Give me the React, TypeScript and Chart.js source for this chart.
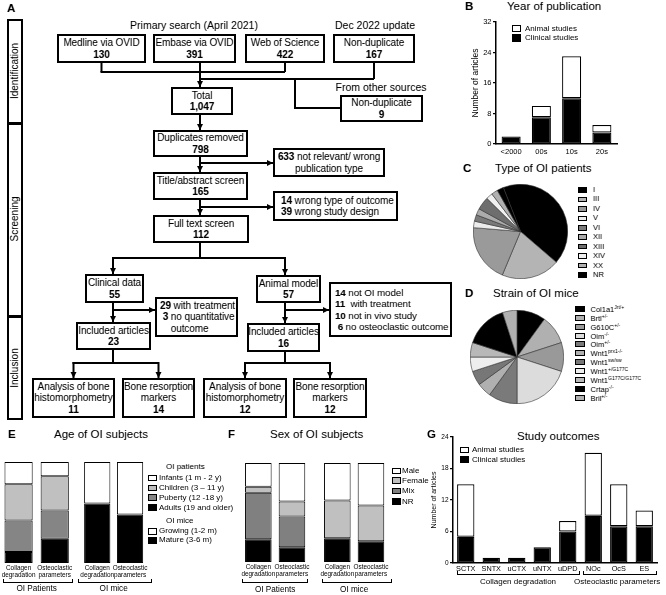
import React, { useEffect, useRef } from 'react';
import { Chart, registerables } from 'chart.js';

Chart.register(...registerables);

const FONT = '"Liberation Sans", Arial, Helvetica, sans-serif';
Chart.defaults.font.family = FONT;
Chart.defaults.color = '#000';

// ---------------- data ----------------
const yearCats = ['<2000', '00s', '10s', '20s'];
const yearClinical = [2, 7, 12, 3];
const yearAnimal = [0, 3, 11, 2];
const yearTicks = [0, 8, 16, 24, 32];

const oiTypeLabels = ['I', 'III', 'IV', 'V', 'VI', 'XII', 'XIII', 'XIV', 'XX', 'NR'];
const oiTypeCounts = [19, 9, 9, 1, 1, 1, 2, 1, 1, 1];

const strainNames = ['Col1a1', 'Brtl', 'G610C', 'Oim', 'Oim', 'Wnt1', 'Wnt1', 'Wnt1', 'Wnt1', 'Crtap', 'Bril'];
const strainAlleles = ['Jrt/+', '+/-', '+/-', '-/-', '+/-', 'prx1-/-', 'sw/sw', '+/G177C', 'G177C/G177C', '-/-', '+/-'];
const strainCounts = [2, 2, 2, 4, 2, 1, 1, 1, 1, 3, 1];

const subjectCats = [['Collagen', 'degradation'], ['Osteoclastic', 'parameters']];
const ageInfants = [22, 14];
const ageChildren = [36, 34];
const agePuberty = [31, 28];
const ageAdults = [11, 24];
const ageGrowing = [41, 52];
const ageMature = [59, 48];

const sexPatMale = [24, 39];
const sexPatFemale = [6, 15];
const sexPatMix = [47, 31];
const sexPatNR = [23, 15];
const sexMiceMale = [38, 43];
const sexMiceFemale = [38, 36];
const sexMiceMix = [0, 0];
const sexMiceNR = [24, 21];

const outcomeCats = ['SCTX', 'SNTX', 'uCTX', 'uNTX', 'uDPD', 'NOc', 'OcS', 'ES'];
const outcomeClinical = [5, 1, 1, 3, 6, 9, 7, 7];
const outcomeAnimal = [10, 0, 0, 0, 2, 12, 8, 3];
const outcomeTicks = [0, 6, 12, 18, 24];

// ---------------- styles ----------------
const oiTypeColors = ['#000000', '#b4b4b4', '#9a9a9a', '#ececec', '#7a7a7a', '#ababab', '#6e6e6e', '#f0f0f0', '#b0b0b0', '#000000'];
const strainColors = ['#000000', '#b0b0b0', '#999999', '#dcdcdc', '#7a7a7a', '#b0b0b0', '#777777', '#eeeeee', '#b8b8b8', '#000000', '#b0b0b0'];

function ChartCanvas({ x, y, w, h, config }: any) {
  const ref = useRef<HTMLCanvasElement | null>(null);
  useEffect(() => {
    const c = new Chart(ref.current as HTMLCanvasElement, config);
    return () => c.destroy();
  }, []);
  return (
    <canvas
      ref={ref}
      width={w}
      height={h}
      style={{ position: 'absolute', left: x, top: y, width: w, height: h }}
    />
  );
}

const baseOpts = {
  responsive: false,
  animation: false,
  events: [],
  devicePixelRatio: 1,
};
const noPlugins = { legend: { display: false }, tooltip: { enabled: false } };

const seg = (label: string, data: number[], color: string, barPct: number, bw = 1) => ({
  label,
  data,
  backgroundColor: color,
  borderColor: '#000',
  borderWidth: bw,
  borderSkipped: false,
  barPercentage: barPct,
  categoryPercentage: 1,
});

function axisBarConfig(o: any) {
  return {
    type: 'bar',
    data: { labels: o.labels, datasets: o.datasets },
    options: {
      ...baseOpts,
      layout: { padding: o.pad },
      plugins: noPlugins,
      scales: {
        x: {
          stacked: true,
          grid: { display: false, drawTicks: false },
          border: { display: true, color: '#000', width: 1.5 },
          ticks: { padding: o.xPad, font: { size: o.xFont }, color: '#000', maxRotation: 0, autoSkip: false },
          afterFit: (s: any) => { s.height = o.xH; },
        },
        y: {
          stacked: true,
          min: 0,
          max: o.yMax,
          afterBuildTicks: (s: any) => { s.ticks = o.yTicks.map((v: number) => ({ value: v })); },
          ticks: { padding: 1.5, font: { size: o.yFont }, color: '#000' },
          grid: { drawOnChartArea: false, drawTicks: true, tickLength: 3, color: '#000', lineWidth: 1.3 },
          border: { display: true, color: '#000', width: 1.5 },
          title: { display: true, text: 'Number of articles', font: { size: o.titleFont }, color: '#000', padding: { top: o.titlePad, bottom: 0 } },
          afterFit: (s: any) => { s.width = o.yW; },
        },
      },
    },
  };
}

function pctBarConfig(o: any) {
  return {
    type: 'bar',
    data: { labels: subjectCats, datasets: o.datasets },
    options: {
      ...baseOpts,
      layout: { padding: { top: 3, left: 0, right: 0, bottom: 0 } },
      plugins: noPlugins,
      scales: {
        x: {
          stacked: true,
          grid: { display: false, drawTicks: false },
          border: { display: false },
          ticks: { padding: 2, font: { size: 6.4, lineHeight: 1.1 }, color: '#000', maxRotation: 0, autoSkip: false },
          title: { display: true, text: o.group, font: { size: 8.2 }, color: '#000', padding: { top: 0, bottom: o.tb } },
          afterFit: (s: any) => { s.height = o.xH; },
        },
        y: { display: false, stacked: true, min: 0, max: 100 },
      },
    },
  };
}

function pieConfig(labels: string[], data: number[], colors: string[], rotation: number) {
  return {
    type: 'pie',
    data: {
      labels,
      datasets: [{ data, backgroundColor: colors, borderColor: '#333', borderWidth: 0.6, hoverOffset: 0 }],
    },
    options: {
      ...baseOpts,
      rotation,
      layout: { padding: 0 },
      plugins: noPlugins,
    },
  };
}

// ---------------- chart configs ----------------
const cfgB = axisBarConfig({
  labels: yearCats,
  datasets: [
    seg('Clinical studies', yearClinical, '#000', 0.63, 1.2),
    seg('Animal studies', yearAnimal, '#fff', 0.63, 1.2),
  ],
  yMax: 32, yTicks: yearTicks,
  pad: { top: 8, right: 8, left: 0, bottom: 0 },
  xH: 16, yW: 33, xPad: 3, xFont: 7.5, yFont: 7.5, titleFont: 8.5, titlePad: 8,
});

const cfgG = axisBarConfig({
  labels: outcomeCats,
  datasets: [
    seg('Clinical studies', outcomeClinical, '#000', 0.68, 1.2),
    seg('Animal studies', outcomeAnimal, '#fff', 0.68, 1.2),
  ],
  yMax: 24, yTicks: outcomeTicks,
  pad: { top: 7, right: 5, left: 0, bottom: 0 },
  xH: 12, yW: 28, xPad: 2, xFont: 7.3, yFont: 6.5, titleFont: 7, titlePad: 4.8,
});

const cfgC = pieConfig(oiTypeLabels, oiTypeCounts, oiTypeColors, -21.3);
const cfgD = pieConfig(strainNames.map((n, i) => n + strainAlleles[i]), strainCounts, strainColors, 0);

const cfgEp = pctBarConfig({
  group: 'OI Patients', xH: 32, tb: 1.2,
  datasets: [
    seg('Adults (19 and older)', ageAdults, '#000', 0.78),
    seg('Puberty (12 -18 y)', agePuberty, '#858585', 0.78),
    seg('Children (3 – 11 y)', ageChildren, '#c0c0c0', 0.78),
    seg('Infants (1 m - 2 y)', ageInfants, '#fff', 0.78),
  ],
});
const cfgEm = pctBarConfig({
  group: 'OI mice', xH: 32, tb: 1.2,
  datasets: [
    seg('Mature (3-6 m)', ageMature, '#000', 0.8),
    seg('Growing (1-2 m)', ageGrowing, '#fff', 0.8),
  ],
});
const cfgFp = pctBarConfig({
  group: 'OI Patients', xH: 33, tb: 0.3,
  datasets: [
    seg('NR', sexPatNR, '#000', 0.79),
    seg('Mix', sexPatMix, '#808080', 0.79),
    seg('Female', sexPatFemale, '#c0c0c0', 0.79),
    seg('Male', sexPatMale, '#fff', 0.79),
  ],
});
const cfgFm = pctBarConfig({
  group: 'OI mice', xH: 33, tb: 0.3,
  datasets: [
    seg('NR', sexMiceNR, '#000', 0.79),
    seg('Mix', sexMiceMix, '#808080', 0.79),
    seg('Female', sexMiceFemale, '#c0c0c0', 0.79),
    seg('Male', sexMiceMale, '#fff', 0.79),
  ],
});

// ---------------- html helpers ----------------
const T = ({ x, y, s = 10, b = false, a = 'left', children, style }: any) => (
  <div
    style={{
      position: 'absolute', left: x, top: y, fontSize: s, fontWeight: b ? 'bold' : 'normal',
      transform: `translate(${a === 'center' ? '-50%' : a === 'right' ? '-100%' : '0'}, -50%)`,
      whiteSpace: 'nowrap', lineHeight: 1, ...style,
    }}
  >
    {children}
  </div>
);

const Sq = ({ x, y, w = 9, h = 7, c }: any) => (
  <div style={{ position: 'absolute', left: x, top: y - h / 2, width: w, height: h, boxSizing: 'border-box', border: '1px solid #000', background: c }} />
);

const Box = ({ x1, y1, x2, y2, left = false, pl = 0, fs = 10, children }: any) => (
  <div
    style={{
      position: 'absolute', left: x1, top: y1, width: x2 - x1, height: y2 - y1,
      border: '2.5px solid #000', boxSizing: 'border-box', display: 'flex', flexDirection: 'column',
      justifyContent: 'center', alignItems: left ? 'flex-start' : 'center', paddingLeft: pl,
      fontSize: fs, lineHeight: '11.3px', background: '#fff', whiteSpace: 'nowrap', letterSpacing: '-0.1px',
    }}
  >
    {children}
  </div>
);

const Bracket = ({ x1, x2, y }: any) => (
  <div style={{ position: 'absolute', left: x1, top: y - 3, width: x2 - x1, height: 3.5, boxSizing: 'border-box', borderLeft: '1.2px solid #000', borderRight: '1.2px solid #000', borderBottom: '1.2px solid #000' }} />
);

function Flow() {
  const lines: any[] = [];
  const arrows: any[] = [];
  const L = (x1: number, y1: number, x2: number, y2: number) => lines.push([x1, y1, x2, y2]);
  const A = (x1: number, y1: number, x2: number, y2: number) => { lines.push([x1, y1, x2, y2]); arrows.push([x1, y1, x2, y2]); };
  L(101.5, 63, 101.5, 72); L(101.5, 72, 285, 72); L(285, 63, 285, 72);
  L(374, 63, 374, 79); L(200, 79, 374, 79);
  A(200, 63, 200, 87);
  L(295, 79, 295, 108); L(295, 108, 340, 108);
  A(200, 115, 200, 130);
  A(200, 157, 200, 172); A(200, 163, 273, 163);
  A(200, 200, 200, 215); A(200, 207, 273, 207);
  L(200, 243, 200, 258); L(113, 258, 285, 258); A(113, 258, 113, 274); A(285, 258, 285, 275);
  A(113, 303, 113, 322); A(113, 310, 155, 310);
  A(285, 303, 285, 323); A(285, 310, 329, 310);
  L(113, 350, 113, 363); L(73.5, 363, 158.5, 363); A(73.5, 363, 73.5, 378); A(158.5, 363, 158.5, 378);
  L(285, 352, 285, 363); L(245, 363, 330, 363); A(245, 363, 245, 378); A(330, 363, 330, 378);

  const head = (a: number[], i: number) => {
    const [x1, y1, x2, y2] = a;
    let pts = '';
    if (x1 === x2) pts = `${x2 - 3},${y2 - 6} ${x2 + 3},${y2 - 6} ${x2},${y2}`;
    else pts = `${x2 - 6},${y2 - 3} ${x2 - 6},${y2 + 3} ${x2},${y2}`;
    return <polygon key={'h' + i} points={pts} fill="#000" />;
  };

  return (
    <>
      <svg width={666} height={595} style={{ position: 'absolute', left: 0, top: 0 }}>
        {lines.map((l, i) => {
          const [x1, y1, x2, y2] = l;
          const hz = y1 === y2;
          return <line key={i} x1={hz ? x1 - 1 : x1} y1={hz ? y1 : y1 - 1} x2={x2} y2={y2} stroke="#000" strokeWidth={2} />;
        })}
        {arrows.map(head)}
      </svg>

      {/* stage bar */}
      <div style={{ position: 'absolute', left: 7, top: 19, width: 16, height: 401, border: '2.5px solid #000', boxSizing: 'border-box' }} />
      <div style={{ position: 'absolute', left: 7, top: 122, width: 16, height: 2.5, background: '#000' }} />
      <div style={{ position: 'absolute', left: 7, top: 315, width: 16, height: 2.5, background: '#000' }} />
      <T x={15} y={71} s={10} a="center" style={{ transform: 'translate(-50%,-50%) rotate(-90deg)' }}>Identification</T>
      <T x={15} y={219} s={10} a="center" style={{ transform: 'translate(-50%,-50%) rotate(-90deg)' }}>Screening</T>
      <T x={15} y={368} s={10} a="center" style={{ transform: 'translate(-50%,-50%) rotate(-90deg)' }}>Inclusion</T>

      <T x={194} y={25} s={10.5} a="center">Primary search (April 2021)</T>
      <T x={375} y={25} s={10.5} a="center">Dec 2022 update</T>
      <T x={381} y={87} s={10.5} a="center">From other sources</T>

      <Box x1={57} y1={34} x2={146} y2={63}><div>Medline via OVID</div><b>130</b></Box>
      <Box x1={153} y1={34} x2={236} y2={63}><div>Embase via OVID</div><b>391</b></Box>
      <Box x1={245} y1={34} x2={325} y2={63}><div>Web of Science</div><b>422</b></Box>
      <Box x1={333} y1={34} x2={415} y2={63}><div>Non-duplicate</div><b>167</b></Box>
      <Box x1={340} y1={95} x2={423} y2={122}><div>Non-duplicate</div><b>9</b></Box>
      <Box x1={171} y1={87} x2={233} y2={115}><div>Total</div><b>1,047</b></Box>
      <Box x1={153} y1={130} x2={248} y2={157}><div>Duplicates removed</div><b>798</b></Box>
      <Box x1={273} y1={148} x2={385} y2={177}><div><b>633</b> not relevant/ wrong</div><div>publication type</div></Box>
      <Box x1={153} y1={172} x2={248} y2={200}><div>Title/abstract screen</div><b>165</b></Box>
      <Box x1={273} y1={191} x2={398} y2={221} left pl={6}><div><b>14</b> wrong type of outcome</div><div><b>39</b> wrong study design</div></Box>
      <Box x1={153} y1={215} x2={249} y2={243}><div>Full text screen</div><b>112</b></Box>
      <Box x1={85} y1={274} x2={144} y2={303}><div>Clinical data</div><b>55</b></Box>
      <Box x1={256} y1={275} x2={321} y2={303}><div>Animal model</div><b>57</b></Box>
      <Box x1={155} y1={297} x2={238} y2={337} left pl={3}><div><b>29</b> with treatment</div><div>&nbsp;<b>3</b> no quantitative</div><div>&nbsp;&nbsp;&nbsp;&nbsp;outcome</div></Box>
      <Box x1={329} y1={282} x2={452} y2={337} left pl={4} fs={9.8}><div><b>14</b> not OI model</div><div><b>11</b>&nbsp; with treatment</div><div><b>10</b> not in vivo study</div><div>&nbsp;<b>6</b> no osteoclastic outcome</div></Box>
      <Box x1={76} y1={322} x2={151} y2={350}><div>Included articles</div><b>23</b></Box>
      <Box x1={247} y1={323} x2={320} y2={352}><div>Included articles</div><b>16</b></Box>
      <Box x1={32} y1={378} x2={115} y2={418}><div>Analysis of bone</div><div>histomorphometry</div><b>11</b></Box>
      <Box x1={122} y1={378} x2={195} y2={418}><div>Bone resorption</div><div>markers</div><b>14</b></Box>
      <Box x1={203} y1={378} x2={287} y2={418}><div>Analysis of bone</div><div>histomorphometry</div><b>12</b></Box>
      <Box x1={293} y1={378} x2={367} y2={418}><div>Bone resorption</div><div>markers</div><b>12</b></Box>
    </>
  );
}

export default function App() {
  const cRows = [190, 199.4, 208.9, 218.3, 227.8, 237.2, 246.7, 256.1, 265.6, 275];
  const dRows = strainNames.map((_, i) => 309 + i * 8.87);
  return (
    <div style={{ position: 'absolute', left: 0, top: 0, width: 666, height: 595, overflow: 'hidden', background: '#fff', fontFamily: FONT, color: '#000', filter: 'grayscale(1)' }}>
      <T x={7} y={8.5} s={11.5} b>A</T>
      <Flow />

      {/* B */}
      <T x={465} y={7} s={11.5} b>B</T>
      <T x={507} y={7} s={11.5}>Year of publication</T>
      <ChartCanvas x={463} y={14} w={162} h={146} config={cfgB} />
      <Sq x={512} y={28.7} w={9} h={7.5} c="#fff" />
      <T x={525} y={28.7} s={8}>Animal studies</T>
      <Sq x={512} y={38} w={9} h={7.5} c="#000" />
      <T x={525} y={38} s={8}>Clinical studies</T>

      {/* C */}
      <T x={463} y={169} s={11.5} b>C</T>
      <T x={495} y={169} s={11.5}>Type of OI patients</T>
      <ChartCanvas x={473} y={184} w={95} h={95} config={cfgC} />
      {oiTypeLabels.map((l, i) => (
        <React.Fragment key={'c' + i}>
          <Sq x={578} y={cRows[i]} w={9} h={5.5} c={oiTypeColors[i]} />
          <T x={593} y={cRows[i]} s={7.5}>{l}</T>
        </React.Fragment>
      ))}

      {/* D */}
      <T x={465} y={294} s={11.5} b>D</T>
      <T x={493} y={294} s={11.5}>Strain of OI mice</T>
      <ChartCanvas x={470} y={310} w={94} h={94} config={cfgD} />
      {strainNames.map((n, i) => (
        <React.Fragment key={'d' + i}>
          <Sq x={575} y={dRows[i]} w={10} h={6} c={strainColors[i]} />
          <T x={590.5} y={dRows[i]} s={7.5}>{n}<sup style={{ fontSize: 5, verticalAlign: 3 }}>{strainAlleles[i]}</sup></T>
        </React.Fragment>
      ))}

      {/* E */}
      <T x={8} y={435} s={11.5} b>E</T>
      <T x={54} y={435} s={11.5}>Age of OI subjects</T>
      <ChartCanvas x={0} y={459} w={74} h={136} config={cfgEp} />
      <ChartCanvas x={79} y={459} w={70} h={136} config={cfgEm} />
      <Bracket x1={3} x2={73} y={582} />
      <Bracket x1={78} x2={152} y={582} />
      <T x={166} y={467} s={8}>OI patients</T>
      <Sq x={148} y={478} h={6.5} c="#fff" /><T x={159} y={478} s={8}>Infants (1 m - 2 y)</T>
      <Sq x={148} y={488} h={6.5} c="#c0c0c0" /><T x={159} y={488} s={8}>Children (3 – 11 y)</T>
      <Sq x={148} y={497.5} h={6.5} c="#858585" /><T x={159} y={497.5} s={8}>Puberty (12 -18 y)</T>
      <Sq x={148} y={507.5} h={6.5} c="#000" /><T x={159} y={507.5} s={8}>Adults (19 and older)</T>
      <T x={166} y={521} s={8}>OI mice</T>
      <Sq x={148} y={531.3} h={6.5} c="#fff" /><T x={159} y={531.3} s={8}>Growing (1-2 m)</T>
      <Sq x={148} y={540.3} h={6.5} c="#000" /><T x={159} y={540.3} s={8}>Mature (3-6 m)</T>

      {/* F */}
      <T x={228} y={435} s={11.5} b>F</T>
      <T x={270} y={435} s={11.5}>Sex of OI subjects</T>
      <ChartCanvas x={240} y={460} w={71} h={135} config={cfgFp} />
      <ChartCanvas x={319} y={460} w={71} h={135} config={cfgFm} />
      <Bracket x1={242} x2={308} y={582} />
      <Bracket x1={322} x2={392} y={582} />
      <Sq x={392} y={471} w={8.5} h={6.5} c="#fff" /><T x={402} y={471} s={8}>Male</T>
      <Sq x={392} y={480.5} w={8.5} h={6.5} c="#c0c0c0" /><T x={402} y={480.5} s={8}>Female</T>
      <Sq x={392} y={491} w={8.5} h={6.5} c="#808080" /><T x={402} y={491} s={8}>Mix</T>
      <Sq x={392} y={501.5} w={8.5} h={6.5} c="#000" /><T x={402} y={501.5} s={8}>NR</T>

      {/* G */}
      <T x={427} y={435} s={11.5} b>G</T>
      <T x={517} y={437} s={11.5}>Study outcomes</T>
      <ChartCanvas x={425} y={430} w={237} h={145} config={cfgG} />
      <Sq x={460} y={450} w={9} h={6.5} c="#fff" /><T x={472} y={450} s={8}>Animal studies</T>
      <Sq x={460} y={459.7} w={9} h={6.5} c="#000" /><T x={472} y={459.7} s={8}>Clinical studies</T>
      <Bracket x1={457} x2={580} y={574} />
      <Bracket x1={583} x2={657} y={574} />
      <T x={518} y={581.5} s={8} a="center">Collagen degradation</T>
      <T x={574} y={581.5} s={8}>Osteoclastic parameters</T>
    </div>
  );
}
